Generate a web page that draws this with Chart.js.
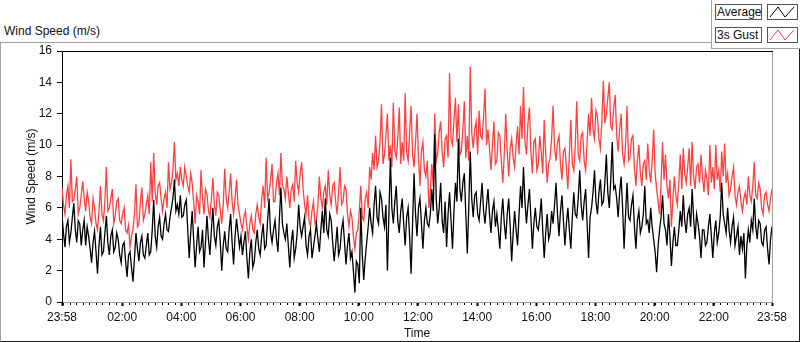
<!DOCTYPE html>
<html>
<head>
<meta charset="utf-8">
<script src="https://cdn.jsdelivr.net/npm/chart.js@4.4.1/dist/chart.umd.min.js"></script>
<style>
  html, body { margin: 0; padding: 0; background: #fff; }
  body { width: 800px; height: 342px; position: relative; overflow: hidden;
         font-family: "Liberation Sans", Arial, sans-serif; font-size: 12px; color: #111; }
  #frame { position: absolute; left: 0; top: 42px; width: 798px; height: 298px;
           border-left: 1px solid #a0a0a0; border-top: 1px solid #a0a0a0;
           border-right: 1px solid #202020; border-bottom: 1px solid #202020; }
  #title { position: absolute; left: 4px; top: 24px; line-height: 14px; }
  #legendPanel { position: absolute; left: 711px; top: 0; width: 88px; height: 48px; background: #fff;
                 border-left: 1px solid #a0a0a0; border-bottom: 1px solid #a0a0a0; z-index: 2; }
  .lgText { position: absolute; left: 3px; width: 44px; height: 14px; line-height: 14px;
            border: 1px solid #555; padding-left: 1px; background: #fff; white-space: nowrap; }
  .lgSwatch { position: absolute; left: 55px; width: 29px; height: 14px; border: 1px solid #555; background: #fff; }
  #chart { position: absolute; left: 0; top: 0; z-index: 1; }
</style>
</head>
<body>
<div id="frame"></div>
<div id="title">Wind Speed (m/s)</div>
<div id="legendPanel"></div>
<canvas id="chart" width="800" height="342"></canvas>
<script>
// Zeitachse: Minuten ab 23:58, ein Wert alle 3 Minuten
const stepMinutes = 3;

// Mittelwert (m/s)
const avgSpeed = [
  5.5,4.4, 3.5,4.8, 5.2,3.8, 4.4,5.4, 6.3,4.6, 3.8,5.2, 5.0,3.6, 4.6,5.2, 3.6,4.8, 4.2,3.4,
  2.5,3.8, 4.5,3.2, 1.8,3.6, 4.8,3.0, 3.2,4.4, 5.5,3.8, 3.0,4.2, 4.6,3.2, 3.5,4.4, 4.0,3.0,
  2.5,3.6, 3.8,2.6, 1.6,3.0, 3.2,2.2, 1.3,2.8, 4.4,3.4, 2.6,3.8, 4.2,3.0, 2.8,3.6, 4.4,3.0,
  3.2,4.6, 6.5,4.2, 3.5,4.8, 5.4,4.2, 4.0,5.0, 5.6,4.6, 4.5,5.4, 6.0,6.6, 7.8,5.8, 6.2,5.6,
  6.8,5.4, 5.5,6.2, 6.5,4.6, 2.8,4.4, 5.8,4.0, 2.2,3.6, 4.8,3.2, 3.5,4.6, 2.2,3.8, 5.5,4.0,
  3.0,4.6, 6.0,4.2, 3.6,4.8, 5.2,3.8, 2.0,3.6, 4.5,3.4, 3.2,4.6, 5.6,3.8, 2.4,4.2, 5.3,4.4,
  3.5,4.2, 3.0,3.8, 4.5,2.8, 1.5,3.2, 4.0,2.2, 2.6,3.8, 4.6,3.4, 3.0,4.2, 5.0,3.4, 3.6,5.2,
  6.6,4.4, 3.8,4.6, 5.2,4.0, 3.2,5.4, 7.3,5.0, 4.4,4.0, 5.0,3.6, 2.2,3.8, 4.6,2.8, 3.4,4.4,
  6.2,4.8, 4.2,4.8, 5.4,3.6, 3.0,4.2, 4.6,2.8, 3.5,4.2, 5.0,4.0, 3.2,4.6, 5.8,4.4, 6.6,4.6,
  4.2,5.6, 5.2,3.8, 2.6,3.6, 4.8,3.0, 3.4,4.6, 5.2,3.8, 2.4,3.6, 4.4,2.8, 3.2,2.0, 0.6,2.6,
  2.4,1.2, 6.0,3.0, 1.4,2.8, 3.8,4.8, 6.0,5.0, 4.4,6.2, 7.4,5.4, 5.0,7.0, 6.6,5.4, 4.8,6.2,
  2.0,5.6, 9.2,6.0, 5.0,6.4, 7.4,5.2, 4.4,5.8, 6.6,5.0, 3.6,5.4, 6.0,4.2, 1.8,5.0, 8.2,5.6,
  4.2,6.0, 6.6,5.0, 3.4,5.2, 6.0,5.0, 4.8,5.6, 7.2,5.8, 10.7,6.6, 5.0,6.0, 7.6,5.2, 4.4,6.4,
  3.5,5.6, 7.0,5.2, 3.4,5.8, 7.6,6.4, 10.4,7.2, 6.4,7.6, 8.2,5.6, 3.1,6.0, 9.6,6.6, 5.4,6.8,
  7.0,5.6, 5.2,6.4, 7.6,5.8, 5.0,6.2, 7.2,5.6, 4.4,5.8, 6.4,4.8, 5.6,4.6, 3.4,5.4, 6.6,5.0,
  4.0,5.6, 6.6,4.8, 2.6,4.4, 5.8,4.6, 3.6,5.6, 7.4,6.0, 8.6,6.4, 5.0,6.2, 7.2,5.4, 3.4,5.0,
  6.0,4.8, 4.6,5.4, 6.6,4.6, 2.8,4.4, 5.6,4.0, 4.4,5.8, 5.0,6.2, 7.6,5.6, 4.2,5.8, 6.8,5.2,
  3.6,5.0, 6.0,4.6, 3.4,5.4, 7.0,5.6, 5.4,6.6, 8.4,6.2, 5.2,6.4, 7.2,5.0, 2.8,5.4, 6.0,7.0,
  8.4,6.4, 5.6,7.0, 7.8,6.2, 6.4,7.6, 9.4,7.0, 6.0,7.8, 10.2,7.2, 7.4,6.6, 5.4,7.0, 8.0,6.0,
  3.4,5.6, 7.6,5.4, 5.2,6.2, 6.8,4.8, 3.4,5.2, 5.8,4.4, 4.8,5.6, 7.4,5.0, 5.2,4.4, 6.0,4.8,
  4.0,3.2, 1.9,3.6, 4.6,5.4, 6.8,5.0, 4.6,3.6, 5.6,4.2, 2.3,3.8, 4.8,3.6, 3.6,4.6, 5.8,4.8,
  6.8,5.2, 4.4,5.6, 6.0,4.8, 7.2,5.4, 4.0,5.6, 5.0,4.2, 2.8,4.6, 4.6,3.6, 3.8,4.8, 5.6,4.2,
  2.8,4.4, 5.2,3.8, 4.4,5.4, 7.6,5.6, 5.0,4.4, 6.0,4.6, 3.8,4.8, 5.4,3.6, 4.2,4.8, 3.0,4.2,
  3.4,4.4, 1.5,3.6, 4.6,3.8, 5.2,4.6, 6.6,4.8, 4.0,5.2, 5.0,3.8, 3.6,4.6, 4.8,3.4, 2.4,4.0, 4.8
];

// 3s-Boe (m/s)
const gustSpeed = [
  7.3,6.2, 5.6,6.8, 7.4,6.0, 9.1,6.4, 6.5,7.2, 8.0,5.6, 6.0,6.8, 7.7,6.6, 5.8,7.0, 6.4,5.4,
  5.0,6.6, 6.0,5.0, 4.6,5.8, 7.4,5.6, 5.2,6.4, 8.6,5.8, 6.0,6.6, 7.2,5.0, 5.5,6.4, 6.6,5.2,
  5.0,5.6, 6.0,4.6, 4.4,4.9, 3.5,4.2, 4.6,5.6, 7.5,4.8, 5.0,6.4, 7.3,5.2, 5.6,6.2, 6.8,5.6,
  8.9,6.4, 9.5,7.0, 6.2,7.4, 7.6,6.6, 5.8,6.6, 7.0,6.0, 8.9,7.2, 7.6,8.4, 10.2,7.8, 8.2,7.4,
  8.6,7.8, 7.4,8.6, 8.0,7.4, 7.0,8.2, 7.6,6.4, 5.0,6.8, 6.4,5.6, 8.4,6.6, 5.6,7.2, 6.9,5.8,
  5.4,6.6, 7.9,6.2, 5.5,7.0, 6.8,5.8, 5.0,6.2, 8.5,6.6, 6.0,7.0, 8.2,6.4, 5.6,6.6, 7.8,6.2,
  5.6,5.0, 4.6,5.4, 5.8,4.8, 4.0,5.0, 5.5,4.6, 4.4,5.6, 6.2,5.4, 5.0,6.6, 7.4,6.0, 9.2,6.6,
  7.0,7.8, 8.8,6.4, 6.4,7.6, 8.2,6.8, 9.5,7.4, 7.2,6.6, 8.0,7.0, 6.0,7.2, 7.5,6.4, 9.0,7.6,
  7.0,8.2, 8.9,7.2, 6.2,5.6, 6.8,5.2, 4.8,5.8, 6.4,5.0, 5.2,6.2, 8.0,6.6, 6.0,7.0, 7.4,6.2,
  8.4,6.8, 6.2,7.4, 7.6,6.4, 5.6,7.0, 8.6,6.2, 6.4,7.4, 7.2,5.6, 4.8,5.8, 5.4,4.2, 3.4,4.4,
  4.6,5.8, 7.4,5.4, 5.2,6.6, 7.0,6.0, 8.6,7.8, 9.5,8.4, 10.6,8.6, 9.0,10.2, 12.6,8.8, 9.4,10.6,
  12.0,9.0, 10.0,8.6, 12.7,9.6, 9.2,10.4, 12.4,8.8, 10.2,9.0, 13.3,9.6, 9.0,10.8, 12.5,9.4, 8.6,10.2,
  12.0,9.2, 7.4,9.6, 10.2,8.4, 8.0,9.0, 6.0,7.0, 8.8,7.4, 12.0,9.0, 9.5,10.8, 11.5,9.6, 8.6,10.4,
  10.6,9.2, 14.6,10.4, 10.0,11.6, 13.0,10.2, 12.6,9.4, 9.6,11.0, 12.8,9.2, 10.6,9.0, 15.0,10.8, 9.8,11.0,
  11.5,9.4, 12.2,10.6, 10.4,11.8, 13.6,10.0, 11.0,9.8, 8.4,10.0, 11.5,8.8, 9.0,10.8, 10.6,9.0, 7.6,9.4,
  12.0,9.6, 8.0,9.8, 10.4,9.2, 8.6,10.0, 11.2,9.4, 12.5,10.4, 13.7,10.2, 9.4,11.4, 12.4,9.6, 8.2,10.2,
  10.4,8.4, 8.8,10.6, 9.6,8.2, 11.6,9.4, 7.6,8.8, 9.2,10.4, 12.5,9.8, 9.0,10.2, 10.6,8.8, 7.8,9.6,
  9.8,8.6, 7.2,9.4, 11.6,8.8, 8.4,10.0, 12.8,9.4, 9.0,10.6, 10.8,9.0, 8.4,10.2, 12.0,10.6, 13.0,11.0,
  10.4,12.2, 11.8,10.4, 9.8,11.6, 14.1,11.4, 12.0,13.0, 14.0,11.2, 11.0,12.4, 13.2,10.6, 9.6,11.0, 12.0,9.4,
  8.8,10.0, 12.5,9.0, 9.2,10.4, 10.6,8.6, 7.4,9.0, 10.0,8.2, 7.4,8.8, 9.0,7.8, 10.1,8.4, 7.6,9.0,
  11.0,8.2, 7.2,6.4, 5.6,7.6, 10.2,7.8, 9.4,7.4, 6.6,7.8, 4.8,6.6, 8.0,6.8, 6.2,7.6, 9.4,7.2,
  9.8,8.2, 7.6,8.6, 9.8,7.4, 10.2,8.0, 7.2,8.6, 8.8,7.6, 9.4,8.0, 7.0,8.4, 7.8,6.8, 10.0,7.6,
  8.6,7.2, 10.0,7.8, 8.4,7.0, 9.6,8.0, 10.1,7.6, 8.2,6.8, 7.2,8.0, 8.6,6.8, 6.2,7.0, 7.4,6.4,
  5.8,6.6, 7.0,6.2, 8.0,6.8, 6.4,7.4, 8.9,6.8, 6.6,7.6, 7.2,6.0, 5.6,6.8, 7.0,6.2, 5.8,6.6, 7.2
];

// Achsenbeschriftung
const tickMinutes = [0, 122, 242, 362, 482, 602, 722, 842, 962, 1082, 1202, 1322, 1440];
const tickLabels = ['23:58', '02:00', '04:00', '06:00', '08:00', '10:00', '12:00',
                    '14:00', '16:00', '18:00', '20:00', '22:00', '23:58'];
const seriesNames = ['Average', '3s Gust'];
const seriesColors = ['#000000', 'rgb(255,64,64)'];

const toPoints = arr => arr.map((v, i) => ({ x: i * stepMinutes, y: v }));

// Legende im LabVIEW-Stil
const panel = document.getElementById('legendPanel');
seriesNames.forEach((name, k) => {
  const top = 4 + k * 23;
  const t = document.createElement('div');
  t.className = 'lgText';
  t.style.top = top + 'px';
  t.textContent = name;
  panel.appendChild(t);
  const s = document.createElement('div');
  s.className = 'lgSwatch';
  s.style.top = top + 'px';
  s.innerHTML = '<svg width="29" height="14"><polyline points="2,12 10,2 17,12 26,2" fill="none" stroke="' +
    seriesColors[k] + '" stroke-width="1"/></svg>';
  panel.appendChild(s);
});

Chart.defaults.font.family = '"Liberation Sans", Arial, sans-serif';
Chart.defaults.font.size = 12;
Chart.defaults.color = '#111';

// Nebenstriche, Rahmen oben/rechts
const extras = {
  id: 'extras',
  afterDraw(chart) {
    const { ctx, chartArea: a, scales: { x } } = chart;
    ctx.save();
    ctx.lineWidth = 1;
    ctx.strokeStyle = '#000';
    ctx.beginPath();
    for (let m = 2; m < 1440; m += 120 / 9) {
      const px = Math.round(x.getPixelForValue(m)) + 0.5;
      ctx.moveTo(px, a.bottom + 1);
      ctx.lineTo(px, a.bottom + 3);
    }
    ctx.stroke();
    ctx.beginPath();
    ctx.moveTo(a.left, a.top + 0.5);
    ctx.lineTo(a.right + 1, a.top + 0.5);
    ctx.stroke();
    ctx.strokeStyle = '#a0a0a0';
    ctx.beginPath();
    ctx.moveTo(a.right + 0.5, a.top + 1);
    ctx.lineTo(a.right + 0.5, a.bottom + 1);
    ctx.stroke();
    ctx.restore();
  }
};

new Chart(document.getElementById('chart'), {
  type: 'line',
  data: {
    datasets: [
      { label: seriesNames[0], data: toPoints(avgSpeed), borderColor: seriesColors[0], borderWidth: 1.3,
        pointRadius: 0, tension: 0 },
      { label: seriesNames[1], data: toPoints(gustSpeed), borderColor: seriesColors[1], borderWidth: 1.3,
        pointRadius: 0, tension: 0 }
    ]
  },
  options: {
    responsive: false,
    animation: false,
    devicePixelRatio: 1,
    layout: { padding: { top: 51, right: 28, left: 0, bottom: 0 } },
    plugins: { legend: { display: false }, tooltip: { enabled: false } },
    scales: {
      x: {
        type: 'linear',
        min: 0,
        max: 1440,
        afterFit: s => { s.height = 40; },
        afterBuildTicks: s => { s.ticks = tickMinutes.map(v => ({ value: v })); },
        ticks: {
          autoSkip: false,
          maxRotation: 0,
          padding: 4,
          callback: v => tickLabels[tickMinutes.indexOf(v)]
        },
        grid: { drawOnChartArea: false, drawTicks: true, tickLength: 4, tickWidth: 2, tickColor: '#000' },
        border: { color: '#a0a0a0', width: 1 },
        title: { display: true, text: 'Time', padding: { top: 0, bottom: 1 } }
      },
      y: {
        min: 0,
        max: 16,
        afterFit: s => { s.width = 62; },
        ticks: { stepSize: 2, padding: 5 },
        grid: { drawOnChartArea: false, drawTicks: true, tickLength: 5, tickColor: '#000' },
        border: { color: '#000', width: 1 },
        title: { display: true, text: 'Wind Speed (m/s)', padding: { top: 24, bottom: 0 } }
      }
    }
  },
  plugins: [extras]
});
</script>
</body>
</html>
